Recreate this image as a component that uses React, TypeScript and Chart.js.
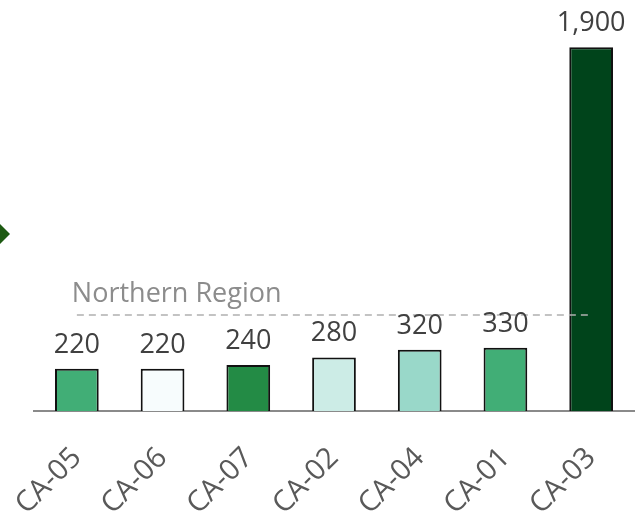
import React, { useEffect, useRef } from "react";
import { Chart, registerables } from "chart.js";

Chart.register(...registerables);

const categories = ["CA-05", "CA-06", "CA-07", "CA-02", "CA-04", "CA-01", "CA-03"];
const values = [220, 220, 240, 280, 320, 330, 1900];
const barColors = ["#41ae76", "#f7fcfd", "#238b45", "#ccece6", "#99d8c9", "#41ae76", "#00441b"];
const referenceLabel = "Northern Region";
const yMax = 2000;

export default function App() {
  const ref = useRef<HTMLCanvasElement>(null);

  useEffect(() => {
    if (!ref.current) return;
    const mean = values.reduce((a, b) => a + b, 0) / values.length;

    const overlay = {
      id: "overlay",
      afterDatasetsDraw(chart: any) {
        const ctx = chart.ctx as CanvasRenderingContext2D;
        const meta = chart.getDatasetMeta(0);
        const yScale = chart.scales.y;
        const first = meta.data[0];
        const last = meta.data[meta.data.length - 1];
        const ly = yScale.getPixelForValue(mean);
        ctx.save();
        // reference (mean) line
        ctx.strokeStyle = "#b0b0b0";
        ctx.lineWidth = 1.5;
        ctx.setLineDash([7, 5]);
        ctx.beginPath();
        ctx.moveTo(first.x, ly);
        ctx.lineTo(last.x, ly);
        ctx.stroke();
        ctx.setLineDash([]);
        ctx.fillStyle = "#8c8c8c";
        ctx.font = "27px 'Open Sans'";
        ctx.textAlign = "left";
        ctx.textBaseline = "alphabetic";
        ctx.fillText(referenceLabel, first.x - 5, ly - 13);
        // value labels
        ctx.fillStyle = "#404040";
        ctx.font = "27px 'Open Sans'";
        ctx.textAlign = "center";
        meta.data.forEach((bar: any, i: number) => {
          ctx.fillText(values[i].toLocaleString("en-US"), bar.x, bar.y - 16);
        });
        // left marker
        const cy = chart.chartArea.top + 206;
        ctx.fillStyle = "#1d5a12";
        ctx.beginPath();
        ctx.moveTo(-10, cy);
        ctx.lineTo(0, cy - 10);
        ctx.lineTo(10, cy);
        ctx.lineTo(0, cy + 10);
        ctx.closePath();
        ctx.fill();
        ctx.restore();
      },
    };

    const chart = new Chart(ref.current, {
      type: "bar",
      data: {
        labels: categories,
        datasets: [
          {
            data: values,
            backgroundColor: barColors,
            borderColor: "#111111",
            borderWidth: 2,
            categoryPercentage: 1,
            barPercentage: 0.51,
          },
        ],
      },
      options: {
        responsive: false,
        animation: false,
        layout: { padding: { left: 34, right: 5, top: 28, bottom: 0 } },
        plugins: { legend: { display: false }, tooltip: { enabled: false } },
        scales: {
          x: {
            grid: { display: false, drawTicks: false },
            border: { display: true, color: "#8a8a8a", width: 2 },
            ticks: {
              color: "#595959",
              font: { family: "'Open Sans'", size: 29 },
              minRotation: 45,
              maxRotation: 45,
              padding: 30,
            },
            afterFit(scale: any) {
              scale.height = 111;
              scale.paddingLeft = 0;
              scale.paddingRight = 0;
            },
          },
          y: { display: false, min: 0, max: yMax },
        },
      },
      plugins: [overlay],
    });
    return () => chart.destroy();
  }, []);

  return (
    <div style={{ position: "absolute", left: 0, top: 0, width: 639, height: 522, background: "#fff" }}>
      <canvas ref={ref} width={639} height={522} />
    </div>
  );
}
